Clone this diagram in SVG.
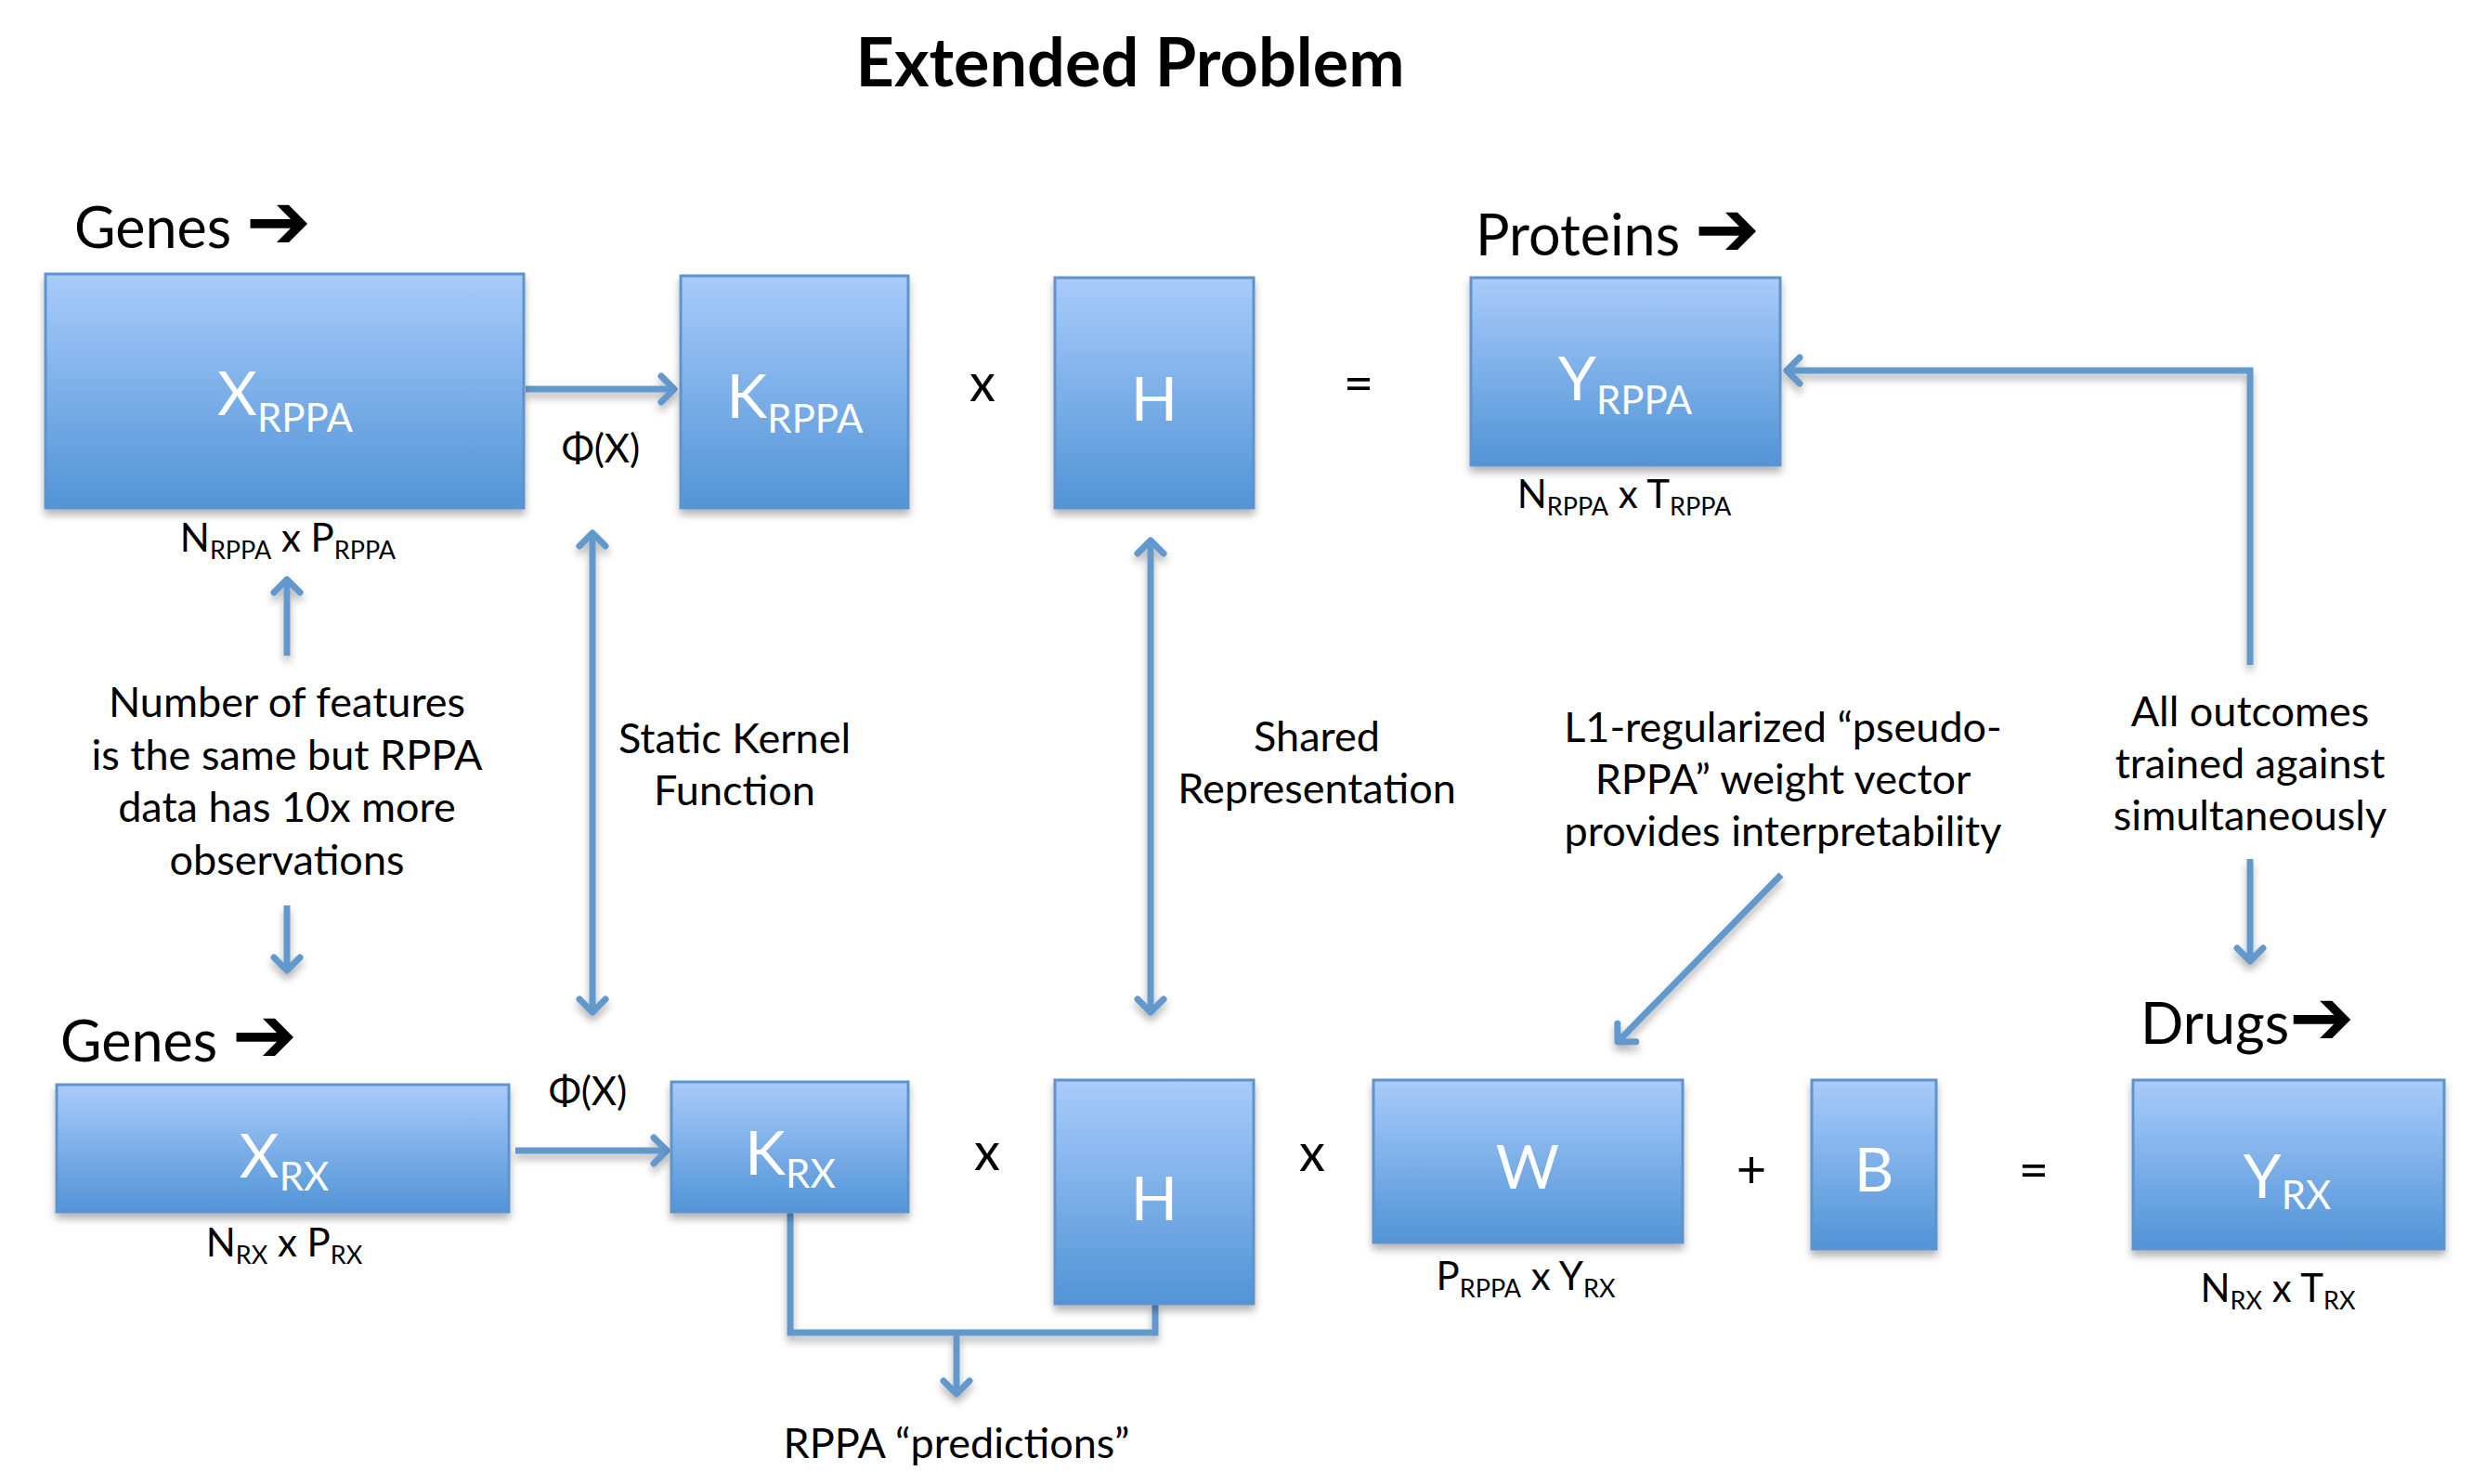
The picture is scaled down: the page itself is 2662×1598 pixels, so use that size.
<svg xmlns="http://www.w3.org/2000/svg" width="2662" height="1598" viewBox="0 0 2662 1598">
<defs>
  <linearGradient id="boxg" x1="0" y1="0" x2="0" y2="1">
    <stop offset="0" stop-color="#a8cbfa"/>
    <stop offset="1" stop-color="#5194d7"/>
  </linearGradient>
  <filter id="shadow" x="-10%" y="-10%" width="120%" height="130%">
    <feDropShadow dx="0" dy="6" stdDeviation="4" flood-color="#000" flood-opacity="0.3"/>
  </filter>
  <marker id="ah" markerUnits="userSpaceOnUse" markerWidth="40" markerHeight="40" viewBox="-20 -20 40 40" refX="0" refY="0" orient="auto-start-reverse">
    <path d="M-14,-14 L0,0 L-14,14" fill="none" stroke="#6398cd" stroke-width="7" stroke-linecap="round" stroke-linejoin="round"/>
  </marker>
  <style>
    .box { fill: url(#boxg); stroke: #5f93cd; stroke-width: 3; filter: url(#shadow); }
    .bl { font-family: Lato, "Open Sans", "DejaVu Sans", sans-serif; fill: #ffffff; text-anchor: middle; font-size: 66px; }
    .bl .sub { font-size: 42px; }
    .dim { font-family: Lato, "Open Sans", "DejaVu Sans", sans-serif; fill: #000; text-anchor: middle; font-size: 42px; }
    .dim .sub { font-size: 27px; }
    .t { font-family: Lato, "Open Sans", "DejaVu Sans", sans-serif; fill: #000; text-anchor: middle; font-size: 45px; }
    .phi { font-family: Lato, "Open Sans", "DejaVu Sans", sans-serif; fill: #000; text-anchor: middle; font-size: 42px; }
    .op { font-family: Lato, "Open Sans", "DejaVu Sans", sans-serif; fill: #000; text-anchor: middle; font-size: 56px; }
    .hdr { font-family: Lato, "Open Sans", "DejaVu Sans", sans-serif; fill: #000; font-size: 61px; }
    .arr { font-family: "DejaVu Sans", sans-serif; font-weight: bold; font-size: 84px; }
    .title { font-family: Lato, "Open Sans", "DejaVu Sans", sans-serif; font-weight: bold; fill: #000; text-anchor: middle; font-size: 72px; }
    .conn path { fill: none; stroke: #6398cd; stroke-width: 7; }
  </style>
</defs>
<rect width="2662" height="1598" fill="#ffffff"/>

<text class="title" x="1217" y="93">Extended Problem</text>

<g id="hdr-genes-top"><text class="hdr" x="80" y="267">Genes <tspan class="arr">➔</tspan></text></g>
<g id="hdr-proteins"><text class="hdr" x="1589" y="275">Proteins <tspan class="arr">➔</tspan></text></g>
<g id="hdr-genes-bottom"><text class="hdr" x="65" y="1143">Genes <tspan class="arr">➔</tspan></text></g>
<g id="hdr-drugs"><text class="hdr" x="2305" y="1124">Drugs<tspan class="arr">➔</tspan></text></g>

<g class="conn" filter="url(#shadow)">
  <path d="M566,419 L726,419" marker-end="url(#ah)"/>
  <path d="M638,574 L638,1090" marker-start="url(#ah)" marker-end="url(#ah)"/>
  <path d="M1239,582 L1239,1090" marker-start="url(#ah)" marker-end="url(#ah)"/>
  <path d="M309,706 L309,624" marker-end="url(#ah)"/>
  <path d="M309,975 L309,1045" marker-end="url(#ah)"/>
  <path d="M2423,716 L2423,399 L1924,399" marker-end="url(#ah)"/>
  <path d="M2423,925 L2423,1035" marker-end="url(#ah)"/>
  <path d="M1918,942 L1742,1122" marker-end="url(#ah)"/>
  <path d="M555,1239 L718,1239" marker-end="url(#ah)"/>
  <path d="M851,1305 L851,1435 L1244,1435 L1244,1404"/>
  <path d="M1030,1435 L1030,1501" marker-end="url(#ah)"/>
</g>

<g id="x-rppa">
  <rect class="box" x="49" y="295" width="515" height="252"/>
  <text class="bl" x="307" y="447">X<tspan class="sub" dy="18">RPPA</tspan></text>
</g>
<g id="k-rppa">
  <rect class="box" x="733" y="297" width="245" height="250"/>
  <text class="bl" x="856" y="450">K<tspan class="sub" dy="16">RPPA</tspan></text>
</g>
<g id="h-top">
  <rect class="box" x="1136" y="299" width="214" height="248"/>
  <text class="bl" x="1243" y="453">H</text>
</g>
<g id="y-rppa">
  <rect class="box" x="1584" y="299" width="333" height="202"/>
  <text class="bl" x="1750" y="431">Y<tspan class="sub" dy="15">RPPA</tspan></text>
</g>
<g id="x-rx">
  <rect class="box" x="61" y="1168" width="487" height="137"/>
  <text class="bl" x="306" y="1268">X<tspan class="sub" dy="14">RX</tspan></text>
</g>
<g id="k-rx">
  <rect class="box" x="723" y="1165" width="255" height="140"/>
  <text class="bl" x="851" y="1265">K<tspan class="sub" dy="14">RX</tspan></text>
</g>
<g id="h-bottom">
  <rect class="box" x="1136" y="1163" width="214" height="241"/>
  <text class="bl" x="1243" y="1314">H</text>
</g>
<g id="w">
  <rect class="box" x="1479" y="1163" width="333" height="175"/>
  <text class="bl" x="1645" y="1280">W</text>
</g>
<g id="b">
  <rect class="box" x="1951" y="1163" width="134" height="182"/>
  <text class="bl" x="2018" y="1283">B</text>
</g>
<g id="y-rx">
  <rect class="box" x="2297" y="1163" width="335" height="182"/>
  <text class="bl" x="2463" y="1290">Y<tspan class="sub" dy="12">RX</tspan></text>
</g>

<g id="labels">
  <text class="dim" x="310" y="594">N<tspan class="sub" dy="8">RPPA</tspan><tspan dy="-8"> x P</tspan><tspan class="sub" dy="8">RPPA</tspan></text>
  <text class="dim" x="1749" y="547">N<tspan class="sub" dy="8">RPPA</tspan><tspan dy="-8"> x T</tspan><tspan class="sub" dy="8">RPPA</tspan></text>
  <text class="dim" x="306" y="1353">N<tspan class="sub" dy="8">RX</tspan><tspan dy="-8"> x P</tspan><tspan class="sub" dy="8">RX</tspan></text>
  <text class="dim" x="1643" y="1389">P<tspan class="sub" dy="8">RPPA</tspan><tspan dy="-8"> x Y</tspan><tspan class="sub" dy="8">RX</tspan></text>
  <text class="dim" x="2453" y="1402">N<tspan class="sub" dy="8">RX</tspan><tspan dy="-8"> x T</tspan><tspan class="sub" dy="8">RX</tspan></text>

  <text class="phi" x="647" y="498">Φ(X)</text>
  <text class="phi" x="633" y="1190">Φ(X)</text>

  <text class="op" x="1058" y="432">x</text>
  <text class="op" x="1463" y="432">=</text>
  <text class="op" x="1063" y="1260">x</text>
  <text class="op" x="1413" y="1261">x</text>
  <text class="op" x="1886" y="1279">+</text>
  <text class="op" x="2190" y="1279">=</text>

  <text class="t" x="309" y="772">Number of features</text>
  <text class="t" x="309" y="829">is the same but RPPA</text>
  <text class="t" x="309" y="885">data has 10x more</text>
  <text class="t" x="309" y="942">observations</text>

  <text class="t" x="791" y="811">Static Kernel</text>
  <text class="t" x="791" y="867">Function</text>

  <text class="t" x="1418" y="809">Shared</text>
  <text class="t" x="1418" y="865">Representation</text>

  <text class="t" x="1920" y="799">L1-regularized “pseudo-</text>
  <text class="t" x="1920" y="855">RPPA” weight vector</text>
  <text class="t" x="1920" y="911">provides interpretability</text>

  <text class="t" x="2423" y="782">All outcomes</text>
  <text class="t" x="2423" y="838">trained against</text>
  <text class="t" x="2423" y="894">simultaneously</text>

  <text class="t" x="1030" y="1570">RPPA “predictions”</text>
</g>
</svg>
